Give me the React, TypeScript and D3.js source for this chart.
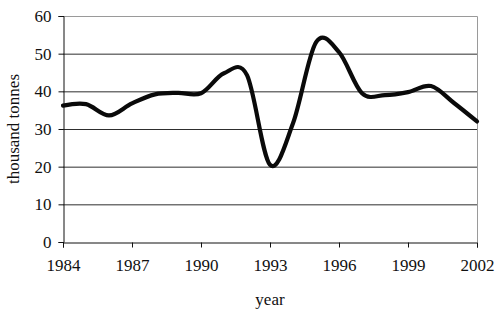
import React, { useEffect, useRef } from "react";
import * as d3 from "d3";

// annual values
const years = [
  1984, 1985, 1986, 1987, 1988, 1989, 1990, 1991, 1992, 1993, 1994, 1995,
  1996, 1997, 1998, 1999, 2000, 2001, 2002,
];
const tonnes = [
  36.2, 36.6, 33.6, 36.8, 39.2, 39.6, 39.5, 44.8, 44.3, 20.5, 31.5, 53.0,
  50.4, 39.5, 39.0, 39.8, 41.4, 36.9, 32.0,
];
const xTicks = [1984, 1987, 1990, 1993, 1996, 1999, 2002];
const yTicks = [0, 10, 20, 30, 40, 50, 60];

const App = () => {
  const svgRef = useRef<SVGSVGElement>(null);

  useEffect(() => {
    const svg = d3.select(svgRef.current);
    svg.selectAll("*").remove();

    const margin = { top: 16, right: 23, bottom: 80, left: 63 };
    const width = 500 - margin.left - margin.right;
    const height = 322 - margin.top - margin.bottom;
    const font = "'Liberation Serif', 'Times New Roman', serif";

    const g = svg
      .append("g")
      .attr("transform", `translate(${margin.left},${margin.top})`);

    const x = d3.scaleLinear().domain([1984, 2002]).range([0, width]);
    const y = d3.scaleLinear().domain([0, 60]).range([height, 0]);

    // grid lines
    g.selectAll(".grid")
      .data(yTicks.filter((t) => t > 0 && t < 60))
      .enter()
      .append("line")
      .attr("x1", 0)
      .attr("x2", width)
      .attr("y1", (d) => y(d) + 0.5)
      .attr("y2", (d) => y(d) + 0.5)
      .attr("stroke", "#2e2e2e")
      .attr("stroke-width", 1);

    // top and right border
    g.append("path")
      .attr("d", `M0,${y(60) + 0.5}H${width + 0.5}V${height}`)
      .attr("fill", "none")
      .attr("stroke", "#9a9a9a")
      .attr("stroke-width", 1);

    // axes
    const xAxis = g
      .append("g")
      .attr("transform", `translate(0,${height + 0.5})`)
      .call(d3.axisBottom(x).tickValues(xTicks).tickFormat(d3.format("d")).tickSize(5).tickPadding(11));
    const yAxis = g
      .append("g")
      .attr("transform", "translate(0.5,0)")
      .call(d3.axisLeft(y).tickValues(yTicks).tickSize(5).tickPadding(7));

    [xAxis, yAxis].forEach((a) => {
      a.select(".domain").attr("stroke", "#111");
      a.selectAll("line").attr("stroke", "#111");
      a.selectAll("text")
        .style("font-family", font)
        .style("font-size", "17px")
        .attr("fill", "#111");
    });

    // data line
    const line = d3
      .line<number>()
      .x((d, i) => x(years[i]))
      .y((d) => y(d))
      .curve(d3.curveCatmullRom.alpha(0));

    g.append("path")
      .datum(tonnes)
      .attr("d", line)
      .attr("fill", "none")
      .attr("stroke", "#0a0a0a")
      .attr("stroke-width", 4.2)
      .attr("stroke-linejoin", "round")
      .attr("stroke-linecap", "round");

    // axis titles
    g.append("text")
      .attr("x", width / 2)
      .attr("y", height + 63)
      .attr("text-anchor", "middle")
      .style("font-family", font)
      .style("font-size", "17px")
      .attr("fill", "#111")
      .text("year");

    g.append("text")
      .attr("transform", "rotate(-90)")
      .attr("x", -height / 2)
      .attr("y", -margin.left + 19)
      .attr("text-anchor", "middle")
      .style("font-family", font)
      .style("font-size", "17px")
      .attr("fill", "#111")
      .text("thousand tonnes");
  }, []);

  return <svg ref={svgRef} width={500} height={322} style={{ display: "block", position: "absolute", left: 0, top: 0, background: "#fff" }} />;
};

export default App;
